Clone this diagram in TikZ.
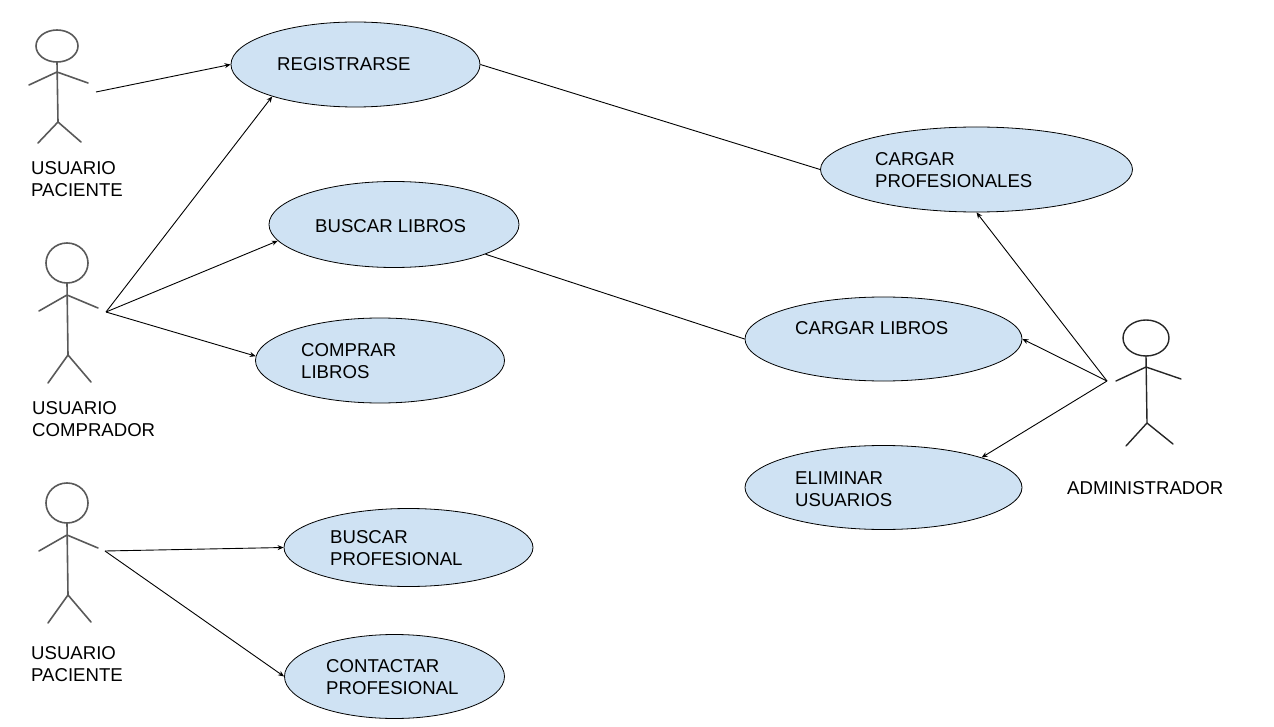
\documentclass[tikz,border=0pt]{standalone}
\usepackage{fontspec}
\setmainfont{Liberation Sans}
\usetikzlibrary{arrows.meta,shapes.geometric}
\definecolor{usecase}{HTML}{CFE2F3}
\definecolor{stick}{HTML}{595959}
\tikzset{
  usecase/.style={ellipse,draw=black,fill=usecase,line width=0.8pt,inner sep=0pt},
  caption/.style={anchor=west,align=left,inner sep=0pt,font=\fontsize{18.6}{22}\selectfont},
  link/.style={line width=0.9pt,black},
  arrow/.style={link,-{Stealth[length=6pt,width=5pt]}},
  actor/.style={line width=1.6pt,line cap=round,line join=round}
}

\begin{document}
\begin{tikzpicture}[x=1pt,y=-1pt]
  \useasboundingbox (0,0) rectangle (1274,727);

  % use cases
  \node[usecase,minimum width=249pt,minimum height=85pt] (registrarse) at (355.5,64.5) {};
  \node[usecase,minimum width=250pt,minimum height=86pt] (buscarlibros) at (394,224.5) {};
  \node[usecase,minimum width=249pt,minimum height=85pt] (comprar) at (380,360.5) {};
  \node[usecase,minimum width=249pt,minimum height=78pt] (buscarprof) at (408.5,547.5) {};
  \node[usecase,minimum width=220pt,minimum height=84pt] (contactar) at (394.5,676.5) {};
  \node[usecase,minimum width=312pt,minimum height=85pt] (cargarprof) at (976.5,169.5) {};
  \node[usecase,minimum width=277pt,minimum height=84pt] (cargarlibros) at (883.5,339) {};
  \node[usecase,minimum width=277pt,minimum height=84pt] (eliminar) at (883.5,487.5) {};

  \node[caption] (tregistrarse) at (277,64.5) {REGISTRARSE};
  \node[caption] (tbuscarlibros) at (315,226) {BUSCAR LIBROS};
  \node[caption] (tcomprar) at (301,361) {COMPRAR\\LIBROS};
  \node[caption] (tbuscarprof) at (330,548) {BUSCAR\\PROFESIONAL};
  \node[caption] (tcontactar) at (326,677) {CONTACTAR\\PROFESIONAL};
  \node[caption] (tcargarprof) at (875,170) {CARGAR\\PROFESIONALES};
  \node[caption] (tcargarlibros) at (795,328) {CARGAR LIBROS};
  \node[caption] (teliminar) at (795,489) {ELIMINAR\\USUARIOS};

  % actors
  \draw[actor,stick] (57,46) ellipse (21pt and 16pt);
  \draw[actor,stick] (57,62)--(58,122) (29,85)--(57,72)--(88,83) (38,143)--(58,122)--(81,142);
  \draw[actor,stick] (67,263) ellipse (21pt and 20pt);
  \draw[actor,stick] (67,283)--(68,355) (39,311)--(67,295)--(98,308) (48,383)--(68,355)--(91,382);
  \draw[actor,stick] (67,503) ellipse (21pt and 20pt);
  \draw[actor,stick] (67,523)--(68,595) (39,551)--(67,535)--(98,548) (48,623)--(68,595)--(91,622);
  \draw[actor,black!85,line width=1.4pt] (1146,338) ellipse (23pt and 18pt);
  \draw[actor,black!85,line width=1.4pt] (1146,356)--(1147,423) (1116,381)--(1146,367)--(1181,379) (1126,446)--(1147,423)--(1173,444);

  \node[caption] (tpaciente) at (31,179) {USUARIO\\PACIENTE};
  \node[caption] (tcomprador) at (32,419) {USUARIO\\COMPRADOR};
  \node[caption] (tpacientedos) at (31,664) {USUARIO\\PACIENTE};
  \node[caption] (tadmin) at (1067,488) {ADMINISTRADOR};

  % free ends
  \coordinate (paciente) at (96,92);
  \coordinate (comprador) at (106,312);
  \coordinate (pacientedos) at (105,551);
  \coordinate (admin) at (1107,381);

  \draw[arrow] (paciente)--(registrarse.west);
  \draw[arrow] (comprador)--(registrarse.201);
  \draw[arrow] (comprador)--(buscarlibros.188);
  \draw[arrow] (comprador)--(comprar.178);
  \draw[arrow] (pacientedos)--(buscarprof.west);
  \draw[arrow] (pacientedos)--(contactar.west);
  \draw[arrow] (admin)--(cargarprof.south);
  \draw[arrow] (admin)--(cargarlibros.east);
  \draw[arrow] (admin)--(eliminar.17);
  \draw[link] (registrarse.east)--(cargarprof.west);
  \draw[link] (buscarlibros.-18.6)--(cargarlibros.west);
\end{tikzpicture}
\end{document}
